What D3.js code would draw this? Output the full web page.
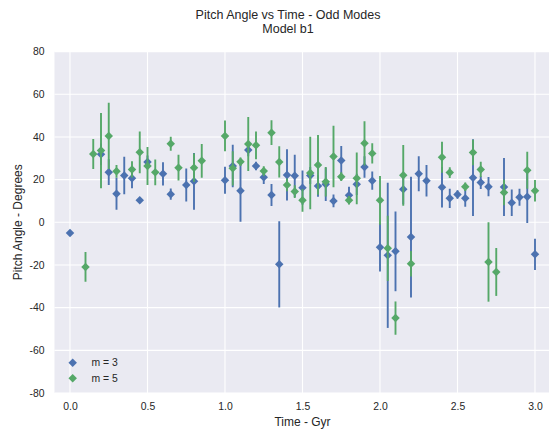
<!DOCTYPE html>
<html>
<head>
<meta charset="utf-8">
<script src="https://cdn.jsdelivr.net/npm/d3@7"></script>
<style>
body { margin: 0; background: #fff; }
svg { display: block; font-family: "Liberation Sans", Arial, sans-serif; }
</style>
</head>
<body>
<svg id="chart" width="549" height="434"></svg>
<script>
// m = 3 series
const times3 = [0.0,0.2,0.25,0.3,0.35,0.4,0.45,0.5,0.6,0.65,0.75,0.8,1.0,1.05,1.1,1.15,1.2,1.25,1.3,1.35,1.4,1.45,1.5,1.55,1.6,1.65,1.7,1.75,1.8,1.85,1.9,1.95,2.0,2.05,2.1,2.15,2.2,2.25,2.3,2.4,2.45,2.5,2.55,2.6,2.65,2.7,2.8,2.85,2.9,2.95,3.0];
const values3 = [-5,31.9,23.5,13.4,21.9,20.6,10.3,28.3,22.7,13.2,17.5,19.2,19.7,26.4,14.8,33.9,26.4,21.1,12.8,-19.7,22.2,21.8,16.25,21.9,17,17.8,10,29,12.7,17.8,25.9,19.5,-11.7,-15.5,-13.6,15.5,-6.9,22.7,19.5,16.4,11.25,13,11.25,20.9,18.6,16.7,16.5,9.2,11.7,12,-15];
const errors3 = [0,5,6,7.5,8.8,4.7,0,3,5.5,2.6,7.7,13.3,6.3,10,14.5,3,2,3.1,5.2,20.2,12,9.9,8,4,5,7.8,3,6.8,4,5,5,4.3,11.3,34,18.7,7,28.3,8.2,7.4,9.5,4.5,2,4,18,3,4.5,13.6,6.2,4,12.3,7.3];

// m = 5 series
const times5 = [0.1,0.15,0.2,0.25,0.3,0.4,0.45,0.5,0.55,0.65,0.7,0.8,0.85,1.0,1.05,1.1,1.15,1.2,1.25,1.3,1.35,1.4,1.45,1.5,1.55,1.6,1.65,1.7,1.75,1.8,1.85,1.9,1.95,2.0,2.05,2.1,2.15,2.2,2.4,2.45,2.55,2.6,2.65,2.7,2.75,2.8,2.95,3.0];
const values5 = [-20.9,32,33.6,40.5,23.9,24.8,32.8,26.4,23.4,36.8,25.6,25.6,28.8,40.5,25.3,28.4,36.7,36.1,24,42,28.3,17.5,14.4,10.3,23.1,26.9,19,30.8,21.4,10.3,20.6,37,32.3,10.3,-12.2,-44.9,22,-19.4,30.5,23.3,16.7,32.7,24.8,-18.6,-23.3,14,24.4,14.8];
const errors5 = [7,7,17.6,15.5,3,3.8,9.8,8.9,6,3.3,6,6.6,7.9,7.2,8,2,12.7,6.5,2.3,5.8,7.3,3,3,5.3,17,14,6.9,14.4,2,2,12.1,10.4,4.7,11.4,15.3,7.8,14.2,6,7.3,2.5,2,6,3.6,18.6,11.2,6,8.7,5];

const xTicks = [0.0,0.5,1.0,1.5,2.0,2.5,3.0];
const yTicks = [-80,-60,-40,-20,0,20,40,60,80];
const seriesNames = ["m = 3","m = 5"];
const seriesColors = ["#4C72B0","#55A868"];

const svg = d3.select("#chart");
const pLeft = 54.5, pRight = 550.5, pTop = 51.6, pBottom = 393;
const x = d3.scaleLinear().domain([-0.1, 3.1]).range([pLeft, pRight]);
const y = d3.scaleLinear().domain([-80, 80]).range([pBottom, pTop]);

svg.append("rect").attr("x", pLeft).attr("y", pTop)
  .attr("width", pRight-pLeft).attr("height", pBottom-pTop).attr("fill", "#EAEAF2");

svg.append("defs").append("clipPath").attr("id","clip")
  .append("rect").attr("x", pLeft).attr("y", pTop).attr("width", pRight-pLeft).attr("height", pBottom-pTop);

const grid = svg.append("g");
grid.selectAll(".gx").data(xTicks).enter().append("line")
  .attr("x1", d=>x(d)).attr("x2", d=>x(d)).attr("y1", pTop).attr("y2", pBottom)
  .attr("stroke", "#fff").attr("stroke-width", 1.1);
grid.selectAll(".gy").data(yTicks).enter().append("line")
  .attr("y1", d=>y(d)).attr("y2", d=>y(d)).attr("x1", pLeft).attr("x2", pRight)
  .attr("stroke", "#fff").attr("stroke-width", 1.1);

const xAxis = svg.append("g").attr("transform", `translate(0,${pBottom})`)
  .call(d3.axisBottom(x).tickValues(xTicks).tickFormat(d3.format(".1f")).tickSize(0).tickPadding(10));
const yAxis = svg.append("g").attr("transform", `translate(${pLeft},0)`)
  .call(d3.axisLeft(y).tickValues(yTicks).tickFormat(d=>String(d)).tickSize(0).tickPadding(10));
[xAxis, yAxis].forEach(a => {
  a.select(".domain").remove();
  a.selectAll("text").attr("fill", "#262626").style("font-size", "10.4px")
    .style("font-family", '"Liberation Sans", Arial, sans-serif');
});

const diamond = d3.symbol().type(d3.symbolSquare).size(36);
const plot = svg.append("g").attr("clip-path", "url(#clip)");
const series = [
  {t: times3, v: values3, e: errors3, c: seriesColors[0]},
  {t: times5, v: values5, e: errors5, c: seriesColors[1]}
];
series.forEach(s => {
  const data = s.t.map((t,i)=>({t, v: s.v[i], e: s.e[i]}));
  const g = plot.append("g");
  g.selectAll("line").data(data.filter(d=>d.e>0)).enter().append("line")
    .attr("x1", d=>x(d.t)).attr("x2", d=>x(d.t))
    .attr("y1", d=>y(d.v - d.e)).attr("y2", d=>y(d.v + d.e))
    .attr("stroke", s.c).attr("stroke-width", 1.9);
  g.selectAll("path").data(data).enter().append("path")
    .attr("d", diamond)
    .attr("transform", d=>`translate(${x(d.t)},${y(d.v)}) rotate(45)`)
    .attr("fill", s.c);
});

// titles
svg.append("text").attr("x", 288).attr("y", 19).attr("text-anchor","middle")
  .attr("fill","#262626").style("font-size","12.5px").text("Pitch Angle vs Time - Odd Modes");
svg.append("text").attr("x", 288).attr("y", 33).attr("text-anchor","middle")
  .attr("fill","#262626").style("font-size","12.5px").text("Model b1");
svg.append("text").attr("x", (pLeft+pRight)/2).attr("y", 425.5).attr("text-anchor","middle")
  .attr("fill","#262626").style("font-size","12px").text("Time - Gyr");
svg.append("text").attr("transform", `translate(22,${(pTop+pBottom)/2}) rotate(-90)`)
  .attr("text-anchor","middle").attr("fill","#262626").style("font-size","12px")
  .text("Pitch Angle - Degrees");

// legend
const legend = svg.append("g");
seriesNames.forEach((name,i) => {
  const ly = 362.7 + i*15.6;
  legend.append("path").attr("d", diamond)
    .attr("transform", `translate(72.7,${ly}) rotate(45)`).attr("fill", seriesColors[i]);
  legend.append("text").attr("x", 91.5).attr("y", ly + 3.7)
    .attr("fill","#262626").style("font-size","10.4px").text(name);
});
</script>
</body>
</html>
